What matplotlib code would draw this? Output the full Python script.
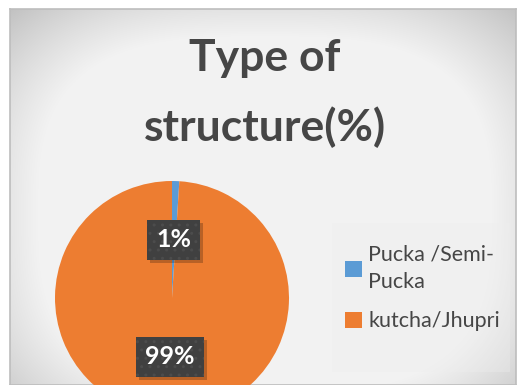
import matplotlib.pyplot as plt
import numpy as np
from matplotlib.patches import Rectangle

# chart data
categories = ['Pucka /Semi-\nPucka', 'kutcha/Jhupri']
shares = [1, 99]
colors = ['#5b9bd5', '#ed7d31']
title_lines = ['Type of', 'structure(%)']

W, H = 517, 385
plt.rcParams['font.family'] = ['Lato', 'DejaVu Sans']

fig = plt.figure(figsize=(W / 100, H / 100), dpi=100)
fig.patch.set_facecolor('white')


def px_box(x0, y0, x1, y1):
    # pixel box measured from the top-left -> figure fraction rect
    return [x0 / W, 1 - y1 / H, (x1 - x0) / W, (y1 - y0) / H]


# chart area with a soft radial fill
cx0, cy0, cx1, cy1 = 10, 9, 516, 385
bg = fig.add_axes(px_box(cx0, cy0, cx1, cy1))
xs = np.linspace(cx0, cx1, 300)
ys = np.linspace(cy0, cy1, 240)
gx, gy = np.meshgrid(xs, ys)
dx = np.abs(gx - 265) / 330
dy = np.abs(gy - 215) / 260
d = (dx**3 + dy**3) ** (1 / 3)
val = np.clip(1.13 - 0.38 * d**2, 0.72, 0.95)
bg.imshow(np.dstack([val] * 3), extent=(0, 1, 0, 1), aspect='auto',
          interpolation='bilinear')
bg.set_xticks([])
bg.set_yticks([])
for s in bg.spines.values():
    s.set_color('#bdbdbd')
    s.set_linewidth(1.2)

# faint legend backdrop
fig.patches.append(Rectangle((332 / W, 1 - 372 / H), (510 - 332) / W, (372 - 223) / H,
                             transform=fig.transFigure, facecolor='#eeeeee',
                             edgecolor='none', alpha=0.35, zorder=1))

for ty, line in zip([58, 127], title_lines):
    fig.text(265 / W, 1 - ty / H, line, ha='center', va='center',
             fontsize=32, fontweight='bold', color='#464646')

# pie: centre (172, 298) px, radius 117 px
r = 117
ax = fig.add_axes(px_box(172 - r, 298 - r, 172 + r, 298 + r))
ax.patch.set_visible(False)
wedges, texts, autotexts = ax.pie(
    shares, colors=colors, startangle=90, counterclock=False,
    autopct=lambda p: f'{p:.0f}%', pctdistance=0.5,
    wedgeprops=dict(linewidth=0),
    textprops=dict(color='white', fontsize=18, fontweight='bold'))
ax.set_xlim(-1, 1)
ax.set_ylim(-1, 1)
ax.set_aspect('equal')

# dark label boxes with a small drop shadow
fig.canvas.draw()
inv = fig.transFigure.inverted()
for t in autotexts:
    bb = t.get_window_extent()
    x0, y0 = bb.x0 - 9, bb.y0 - 9
    x1, y1 = bb.x1 + 9, bb.y1 + 8
    (fx0, fy0), (fx1, fy1) = inv.transform([(x0, y0), (x1, y1)])
    sdx, sdy = 3 / W, -3 / H
    fig.patches.append(Rectangle((fx0 + sdx, fy0 + sdy), fx1 - fx0, fy1 - fy0,
                                 transform=fig.transFigure, facecolor='black',
                                 edgecolor='none', alpha=0.22, zorder=3))
    fig.patches.append(Rectangle((fx0, fy0), fx1 - fx0, fy1 - fy0,
                                 transform=fig.transFigure, facecolor='#404040',
                                 edgecolor='#4c4c4c', linewidth=0, hatch='..',
                                 zorder=4))
    # redraw text above the figure-level boxes
    t.set_visible(False)
    fig.text((bb.x0 + bb.x1) / 2 / fig.bbox.width, (bb.y0 + bb.y1) / 2 / fig.bbox.height,
             t.get_text(), ha='center', va='center', fontsize=18,
             fontweight='bold', color='white', zorder=6)

leg = fig.legend(wedges, categories, loc='upper left',
                 bbox_to_anchor=(334 / W, 1 - 234 / H), frameon=False,
                 fontsize=15.5, labelcolor='#464646', handlelength=0.8,
                 handleheight=0.8, handletextpad=0.3, labelspacing=0.9,
                 borderpad=0)
for txt in leg.get_texts():
    txt.set_linespacing(1.45)

fig.savefig('out.png', dpi=100, facecolor='white')
